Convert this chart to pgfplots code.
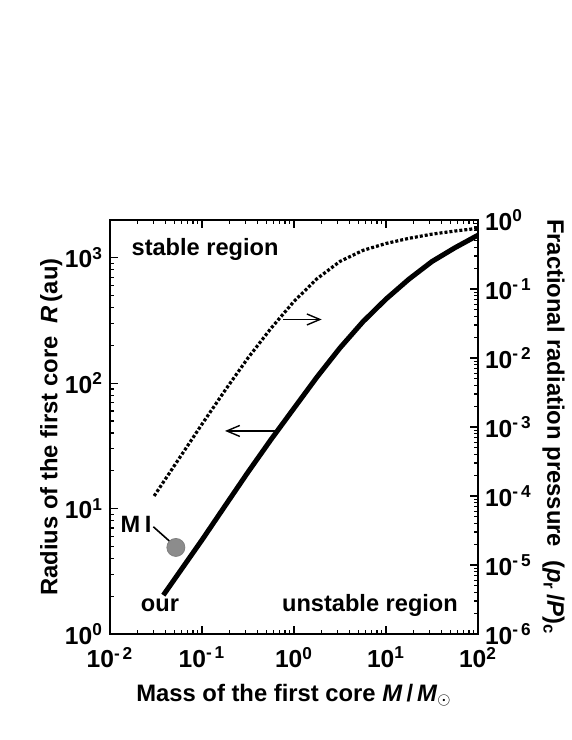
\documentclass[border=0pt]{standalone}
\usepackage{pgfplots}
\pgfplotsset{compat=1.18}
\usepackage{fontspec}
\setmainfont{Liberation Sans}
\usetikzlibrary{arrows.meta}
\newcommand{\tl}[1]{10\textsuperscript{#1}}
\newcommand{\tfont}{\fontsize{11.8}{14}\selectfont\bfseries}
\begin{document}
\begin{tikzpicture}[x=1pt,y=1pt,font=\bfseries]
\path[use as bounding box] (0,0) rectangle (286,370);
\begin{axis}[
  at={(55pt,53pt)}, anchor=south west, scale only axis,
  width=184pt, height=207pt,
  xmode=log, ymode=log, xmin=0.01, xmax=100, ymin=1, ymax=2000,
  xtick={0.01,0.1,1,10,100},
  xticklabels={\tl{-\,2},\tl{-\,1},\tl{0},\tl{1},\tl{2}},
  ytick={1,10,100,1000},
  yticklabels={\tl{0},\tl{1},\tl{2},\tl{3}},
  ytick pos=left, tick align=inside,
  major tick length=4pt, minor tick length=2pt,
  every tick/.style={black, line width=0.6pt},
  axis line style={line width=0.8pt},
  ticklabel style={font=\fontsize{12.3}{14}\selectfont\bfseries},
  xticklabel style={yshift=-3pt},
  xlabel={Mass of the first core \textit{M}\,/\,\textit{M}$_\odot$},
  ylabel={Radius of the first core \ \textit{R}\,(au)},
  label style={font=\fontsize{11.9}{14}\selectfont\bfseries},
  xlabel style={yshift=-1pt},
  ylabel style={at={(axis description cs:-0.16,0.5)}, anchor=center},
]
\addplot[black, line width=2.5pt] coordinates {
(0.038,2.04) (0.0631,3.47) (0.1,5.62) (0.178,10.5) (0.316,19.5) (0.562,35.5)
(1,63.1) (1.78,112) (3.16,191) (5.62,309) (10,468) (17.8,676) (31.6,933)
(56.2,1202) (100,1514)};
\addplot[only marks, mark=*, mark size=4.5pt, gray, mark options={fill=gray!90, draw=gray}] coordinates {(0.052,4.9)};
\draw[line width=0.8pt] (axis cs:0.0296,7.16) -- (axis cs:0.046,5.37);
\node[font=\tfont] at (axis cs:0.0192,7.46) {M\hspace{0.2em}I};
\node[font=\tfont] at (axis cs:0.108,1157) {stable region};
\node[font=\tfont, anchor=base] at (axis cs:6.7,1.52) {unstable region};
\node[font=\tfont, anchor=base] at (axis cs:0.0349,1.52) {our};
\draw[line width=0.7pt, -{Straight Barb[length=6.5pt,width=5.5pt,line width=0.7pt]}] (axis cs:0.766,322) -- (axis cs:2.0,322);
\draw[line width=0.7pt, -{Straight Barb[length=6.5pt,width=5.5pt,line width=0.7pt]}] (axis cs:0.649,41.6) -- (axis cs:0.178,41.6);
\end{axis}
\begin{axis}[
  at={(55pt,53pt)}, anchor=south west, scale only axis,
  width=184pt, height=207pt,
  xmode=log, ymode=log, xmin=0.01, xmax=100, ymin=1e-6, ymax=1,
  hide x axis, axis y line*=right,
  ytick={1e-6,1e-5,1e-4,1e-3,1e-2,1e-1,1},
  yticklabels={\tl{-\,6},\tl{-\,5},\tl{-\,4},\tl{-\,3},\tl{-\,2},\tl{-\,1},\tl{0}},
  tick align=inside,
  major tick length=4pt, minor tick length=2pt,
  every tick/.style={black, line width=0.6pt},
  axis line style={line width=0.8pt},
  ticklabel style={font=\fontsize{12.3}{14}\selectfont\bfseries},
  ylabel={Fractional radiation pressure \ (\textit{p}\textsubscript{r}\,/\textit{P})\textsubscript{c}},
  label style={font=\fontsize{11.9}{14}\selectfont\bfseries},
  ylabel style={at={(axis description cs:1.205,0.5)}, anchor=center, rotate=180},
]
\addplot[black, line width=1.6pt, dash pattern=on 1.5pt off 1pt] coordinates {
(0.0302,1.0e-4) (0.0562,3.47e-4) (0.1,1.10e-3) (0.178,3.39e-3) (0.316,1.0e-2)
(0.562,2.69e-2) (1,6.61e-2) (1.78,0.141) (3.16,0.251) (5.62,0.363) (10,0.457)
(17.8,0.543) (31.6,0.624) (56.2,0.692) (100,0.759)};
\end{axis}
\end{tikzpicture}
\end{document}
